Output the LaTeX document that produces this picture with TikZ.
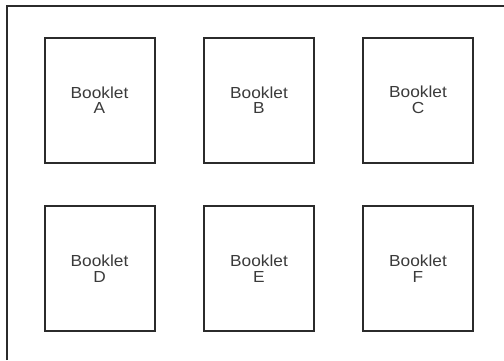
\documentclass[tikz,border=0pt]{standalone}
\usepackage{fontspec}
\setmainfont{Liberation Sans}
\newfontfamily\bookletfont{Liberation Sans}[FakeStretch=1.08]
\definecolor{bookletfg}{HTML}{2B2B2B}
\definecolor{booklettext}{HTML}{3A3A3A}

\begin{document}
\begin{tikzpicture}[x=1pt,y=-1pt]
  \tikzstyle{frame}=[line width=2pt, draw=bookletfg]
  \tikzstyle{booklet}=[frame, rectangle, minimum width=110pt, minimum height=125pt,
    align=center, text=booklettext, font=\bookletfont\fontsize{16}{15.5}\selectfont]

  \useasboundingbox (0,0) rectangle (504,360);
  % outer sheet, only its top and left edges are in view
  \draw[frame] (6.5,360) -- (6.5,6) -- (504,6);

  \foreach \name/\x/\y in {A/99.5/100, B/259/100, C/418/100,
                           D/99.5/268.5, E/259/268.5, F/418/268.5} {
    \node[booklet] (booklet\name) at (\x,\y) {Booklet\\\name};
  }
\end{tikzpicture}
\end{document}
